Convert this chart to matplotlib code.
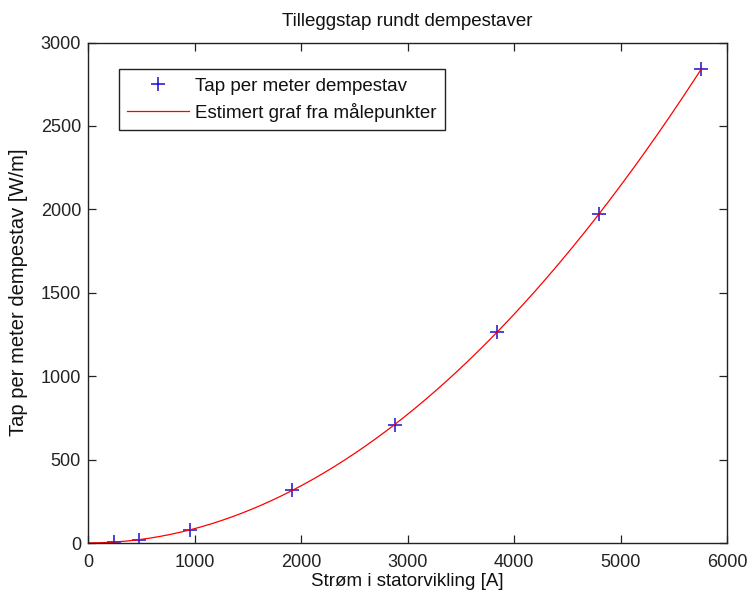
import numpy as np
import matplotlib
matplotlib.use("Agg")
import matplotlib.pyplot as plt

# Measured data points
current_A = [240, 480, 960, 1920, 2880, 3840, 4800, 5760]
loss_W_per_m = [5, 20, 80, 316, 710, 1262, 1975, 2842]

title = "Tilleggstap rundt dempestaver"
xlabel = "Strøm i statorvikling [A]"
ylabel = "Tap per meter dempestav [W/m]"
legend_labels = ["Tap per meter dempestav", "Estimert graf fra målepunkter"]
xticks = [0, 1000, 2000, 3000, 4000, 5000, 6000]
yticks = [0, 500, 1000, 1500, 2000, 2500, 3000]

plt.rcParams['font.family'] = ['Liberation Sans', 'DejaVu Sans']
plt.rcParams['font.size'] = 13

fig = plt.figure(figsize=(7.49, 5.97), dpi=100)
ax = fig.add_axes([88/749, 54/597, 639/749, 500.5/597])

# Fitted curve from the measured points
coef = np.polyfit(current_A, loss_W_per_m, 2)
xf = np.linspace(0, current_A[-1], 300)
yf = np.polyval(coef, xf)

ax.plot(current_A, loss_W_per_m, linestyle='none', marker='+', color='#1a10d0',
        markersize=9.5, markeredgewidth=1.1, label=legend_labels[0])
ax.plot(xf, yf, color='#ff0000', linewidth=0.9, label=legend_labels[1])

ax.set_xlim(0, 6000)
ax.set_ylim(0, 3000)
ax.set_xticks(xticks)
ax.set_yticks(yticks)
ax.tick_params(direction='in', top=True, right=True, length=6, width=0.9,
               labelsize=13, colors='#222222')
ax.tick_params(axis='x', pad=8)
ax.tick_params(axis='y', pad=5)
for s in ax.spines.values():
    s.set_linewidth(1.0)
    s.set_color('#222222')

ax.set_title(title, fontsize=13.5, pad=12, color='#111111')
ax.set_xlabel(xlabel, fontsize=13.5, labelpad=1, color='#111111')
ax.set_ylabel(ylabel, fontsize=14.5, labelpad=9, color='#111111')

leg = ax.legend(loc='upper left', bbox_to_anchor=(0.0485, 0.947), fancybox=False,
                edgecolor='#222222', framealpha=1, fontsize=13.5, borderaxespad=0,
                handlelength=3.3, handletextpad=0.3, borderpad=0.45, labelspacing=0.45)
leg.get_frame().set_linewidth(1.0)
for t in leg.get_texts():
    t.set_color('#111111')

fig.savefig("out.png", dpi=100)
